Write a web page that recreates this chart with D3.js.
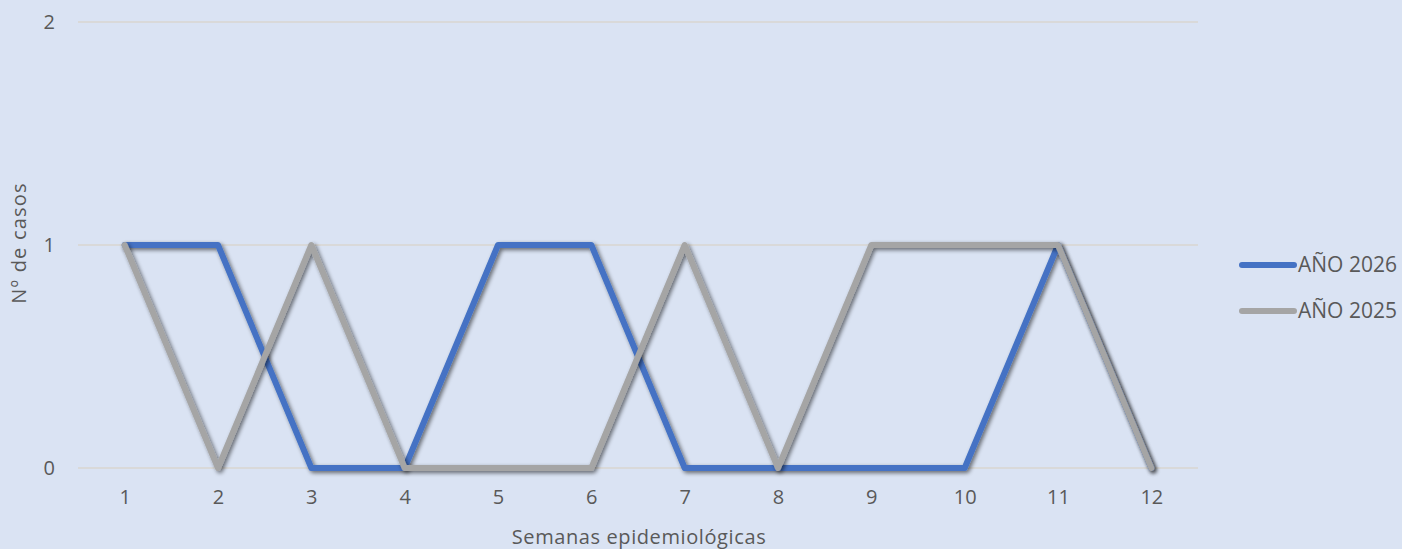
<!DOCTYPE html>
<html><head><meta charset="utf-8">
<script src="https://cdn.jsdelivr.net/npm/d3@7"></script>
<style>
html,body{margin:0;padding:0;background:#dae3f3;}
svg{display:block;font-family:"Open Sans",sans-serif;}
</style></head>
<body><svg id="c" width="1402" height="549"></svg>
<script>
const weeks = [1,2,3,4,5,6,7,8,9,10,11,12];
const serie2026 = [1,1,0,0,1,1,0,0,0,0,1,0];
const serie2025 = [1,0,1,0,0,0,1,0,1,1,1,0];
const yTicks = [0,1,2];
const seriesNames = ["AÑO 2026","AÑO 2025"];
const seriesColors = ["#4472c4","#a5a5a5"];
const FONT = "'Open Sans',sans-serif";
const FS = 20;

const svg = d3.select("#c");
svg.append("rect").attr("width",1402).attr("height",549).attr("fill","#dae3f3");
const defs = svg.append("defs");
const f = defs.append("filter").attr("id","sh").attr("x","-10%").attr("y","-10%").attr("width","120%").attr("height","130%");
f.append("feGaussianBlur").attr("in","SourceAlpha").attr("stdDeviation",2).attr("result","b");
f.append("feOffset").attr("in","b").attr("dx",2).attr("dy",2).attr("result","o");
f.append("feComponentTransfer").attr("in","o").attr("result","o2").append("feFuncA").attr("type","linear").attr("slope",0.55);
const m = f.append("feMerge"); m.append("feMergeNode").attr("in","o2"); m.append("feMergeNode").attr("in","SourceGraphic");

const x = d3.scalePoint().domain(weeks).range([78,1198]).padding(0.5);
const y = d3.scaleLinear().domain([0,2]).range([468,22]);

// grid
svg.append("g").selectAll("line").data(yTicks).join("line")
  .attr("x1",78).attr("x2",1198).attr("y1",d=>y(d)).attr("y2",d=>y(d))
  .attr("stroke","#d9d9d9").attr("stroke-width",2);

// y axis labels
const ya = svg.append("g").attr("transform","translate(59,0)")
  .call(d3.axisLeft(y).tickValues(yTicks).tickSize(0).tickPadding(4).tickFormat(d3.format("d")));
ya.select(".domain").remove();
ya.selectAll("text").attr("fill","#595959").attr("font-size",FS).attr("font-family",FONT);

// x axis labels
const xa = svg.append("g").attr("transform","translate(0,488)")
  .call(d3.axisBottom(x).tickSize(0).tickPadding(2));
xa.select(".domain").remove();
xa.selectAll("text").attr("fill","#595959").attr("font-size",FS).attr("font-family",FONT);

// titles
svg.append("text").attr("x",639).attr("y",544).attr("text-anchor","middle")
  .attr("fill","#595959").attr("font-size",20).attr("letter-spacing",0.6).text("Semanas epidemiológicas");
svg.append("text").attr("transform","translate(26,243) rotate(-90)").attr("text-anchor","middle")
  .attr("fill","#595959").attr("font-size",20).attr("letter-spacing",1.2).text("Nº de casos");

const line = d3.line().x((d,i)=>x(weeks[i])).y(d=>y(d));
[serie2026, serie2025].forEach((s,i)=>{
  svg.append("path").datum(s).attr("d",line).attr("fill","none")
    .attr("stroke",seriesColors[i]).attr("stroke-width",6)
    .attr("stroke-linejoin","round").attr("stroke-linecap","round")
    .attr("filter","url(#sh)");
});

// legend
const lg = svg.append("g");
seriesNames.forEach((n,i)=>{
  const yy = 265 + i*46;
  lg.append("line").attr("x1",1242).attr("x2",1294).attr("y1",yy).attr("y2",yy)
    .attr("stroke",seriesColors[i]).attr("stroke-width",6).attr("stroke-linecap","round");
  lg.append("text").attr("x",1298).attr("y",yy+7).attr("fill","#595959").attr("font-size",21).text(n);
});
</script></body></html>
